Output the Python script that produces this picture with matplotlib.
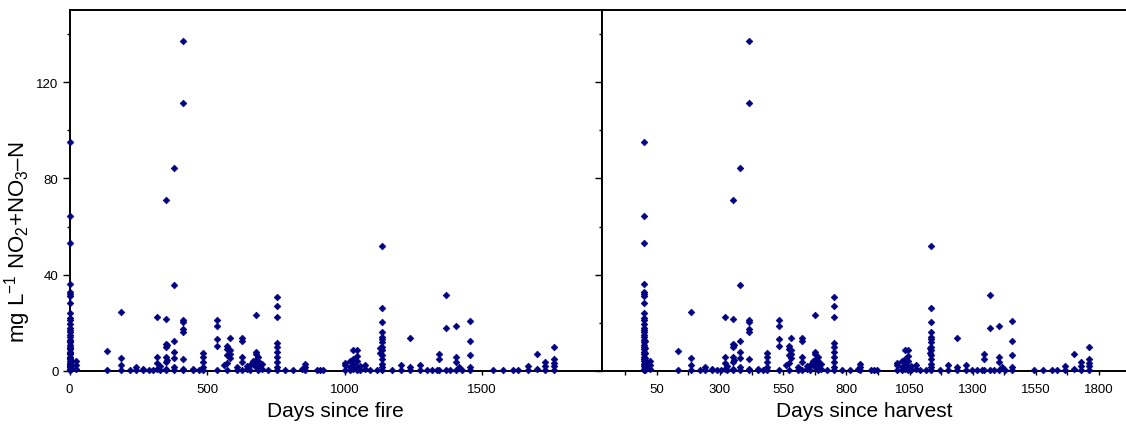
import matplotlib
matplotlib.use("Agg")
import matplotlib.pyplot as plt
from matplotlib.ticker import FixedLocator

plt.rcParams['font.family'] = ['Liberation Sans', 'DejaVu Sans']
plt.rcParams['mathtext.fontset'] = 'custom'
plt.rcParams['mathtext.rm'] = 'Liberation Sans'

# ---- data: (sampling day, NO2+NO3-N in mg/L) ----
days = [
    0, 0, 0, 0, 0, 0, 0, 0, 0, 0, 0, 0, 0, 0, 0, 0, 0, 0, 0, 0, 0, 0, 0, 0, 0, 0, 0, 0, 0, 0, 0,
    2, 2, 2, 2, 2, 2, 2, 2,
    4, 4, 4,
    22, 22, 22,
    135, 135,
    187, 187, 187, 187,
    220, 242, 242, 268, 268, 290, 305,
    319, 319, 319, 319,
    329, 329,
    351, 351, 351, 351, 351, 351, 351, 351,
    356, 356,
    381, 381, 381, 381, 381, 381, 381,
    414, 414, 414, 414, 414, 414, 414, 414, 414,
    450, 450, 470,
    487, 487, 487, 487, 487,
    535, 535, 535, 535, 535,
    560,
    572, 572, 572, 572, 572,
    583, 583, 583, 583,
    608, 608,
    626, 626, 626, 626, 626,
    645, 645, 656, 656, 668, 668,
    677, 677, 677, 677, 677, 677,
    687, 687, 687, 687,
    700, 700, 723,
    753, 753, 753, 753, 753, 753, 753, 753, 753, 753,
    784, 814, 845, 856, 856, 856, 899, 910, 923,
    1002, 1002, 1002,
    1020, 1020, 1020,
    1032, 1032, 1032, 1032,
    1045, 1045, 1045, 1045, 1045,
    1056, 1056, 1075, 1075, 1093, 1117,
    1130, 1130,
    1135, 1135, 1135, 1135, 1135, 1135, 1135, 1135, 1135, 1135, 1135, 1135, 1135, 1135,
    1172, 1204, 1204,
    1238, 1238, 1238,
    1275, 1275, 1299, 1317, 1335,
    1345, 1345, 1345,
    1369, 1369, 1369,
    1384,
    1404, 1404, 1404, 1404,
    1415, 1426,
    1456, 1456, 1456, 1456, 1456,
    1541, 1577, 1612, 1632,
    1666, 1666,
    1699, 1699,
    1729, 1729, 1729,
    1762, 1762, 1762, 1762, 1762,
]
no2no3_n = [
    95.3, 64.3, 53.2, 36.2, 33.0, 32.0, 31.0, 28.3, 24.0, 22.0, 21.0, 19.5, 18.0, 17.0, 16.0, 15.0,
    14.0, 13.0, 12.0, 11.0, 10.0, 9.0, 8.0, 7.0, 6.0, 5.0, 4.0, 3.0, 2.0, 1.0, 0.3,
    12.5, 9.5, 7.5, 5.5, 3.5, 2.5, 1.5, 0.5,
    4.0, 2.0, 0.8,
    4.2, 2.3, 0.8,
    8.5, 0.3,
    24.4, 5.3, 2.5, 0.3,
    0.3, 1.5, 0.3, 1.0, 0.3, 0.3, 0.5,
    22.3, 5.8, 3.5, 1.0,
    0.3, 2.0,
    71.2, 21.4, 11.2, 10.0, 5.8, 3.7, 1.0, 0.3,
    11.0, 4.5,
    84.2, 35.8, 12.6, 7.8, 5.5, 1.5, 0.3,
    137.0, 111.5, 21.0, 20.2, 17.5, 16.0, 5.0, 1.0, 0.3,
    0.3, 1.0, 0.5,
    7.5, 5.8, 3.7, 1.5, 0.3,
    21.2, 18.6, 13.3, 10.3, 0.3,
    2.5,
    10.3, 9.0, 6.5, 3.5, 0.3,
    13.6, 8.6, 7.2, 5.5,
    0.3, 1.5,
    13.6, 12.6, 5.8, 3.7, 0.3,
    1.0, 2.0, 2.5, 0.3, 3.0, 4.0,
    23.3, 7.9, 7.2, 4.5, 3.0, 1.5,
    5.8, 4.2, 2.0, 0.3,
    3.0, 1.0, 0.3,
    30.7, 27.2, 22.6, 11.7, 10.0, 8.0, 5.8, 3.7, 1.5, 0.3,
    0.3, 0.3, 1.0, 2.8, 1.5, 0.3, 0.3, 0.3, 0.3,
    3.5, 2.5, 0.3,
    4.2, 1.5, 0.3,
    8.9, 5.0, 3.0, 1.0,
    8.6, 6.4, 4.0, 1.5, 0.3,
    0.5, 2.0, 2.6, 1.0, 0.3, 0.5,
    9.5, 7.5,
    52.0, 26.2, 20.3, 16.0, 14.0, 13.3, 12.0, 10.0, 8.7, 6.8, 5.0, 3.0, 1.5, 0.3,
    0.3, 2.3, 0.3,
    13.6, 1.5, 0.3,
    2.5, 0.3, 0.3, 0.3, 0.5,
    7.1, 5.0, 0.3,
    31.4, 17.9, 0.3,
    0.5,
    18.6, 5.8, 3.7, 0.3,
    1.5, 0.3,
    20.7, 12.6, 6.7, 1.5, 0.3,
    0.3, 0.3, 0.3, 0.3,
    2.0, 0.3,
    7.1, 0.8,
    3.7, 2.0, 0.5,
    10.1, 5.0, 3.5, 2.0, 0.5,
]

fire_ticks = [0, 500, 1000, 1500]
harvest_ticks = [50, 300, 550, 800, 1050, 1300, 1550, 1800]
harvest_minor = [-75, 175, 425, 675, 925, 1175, 1425, 1675]
y_major = [0, 40, 80, 120]
y_minor = [20, 60, 100, 140]

W, H = 1126, 431
fig = plt.figure(figsize=(W / 100, H / 100), dpi=100)

bottom = (H - 372) / H
height = (372 - 11) / H
axL = fig.add_axes([69.5 / W, bottom, (601.7 - 69.5) / W, height])
axR = fig.add_axes([601.7 / W, bottom, (W - 601.7) / W, height])

navy = '#000080'
for ax in (axL, axR):
    ax.plot(days, no2no3_n, linestyle='none', marker='D', markersize=3.4,
            color=navy, markeredgecolor=navy, markeredgewidth=0.5, clip_on=False, zorder=3)
    ax.set_ylim(0, 150)
    ax.yaxis.set_major_locator(FixedLocator(y_major))
    ax.yaxis.set_minor_locator(FixedLocator(y_minor))
    ax.tick_params(axis='y', which='major', length=5, width=1, direction='out', labelsize=9.5, pad=3)
    ax.tick_params(axis='y', which='minor', length=2.5, width=1, direction='out')
    ax.tick_params(axis='x', which='both', length=3, width=1, direction='out', labelsize=9.5, pad=6)
    for s in ax.spines.values():
        s.set_linewidth(1.4)

axL.set_xlim(0, 1935)
axL.xaxis.set_major_locator(FixedLocator(fire_ticks))
axL.set_xlabel('Days since fire', fontsize=15, labelpad=4)
axL.set_ylabel(r'mg L$^{\mathregular{-1}}$ NO$_{\mathregular{2}}$+NO$_{\mathregular{3}}$–N',
               fontsize=16)
axL.yaxis.set_label_coords(-0.069, 0.36)

axR.set_xlim(-168, 1906.6)
axR.xaxis.set_major_locator(FixedLocator(harvest_ticks))
axR.xaxis.set_minor_locator(FixedLocator(harvest_minor))
axR.tick_params(axis='y', labelleft=False)
axR.spines['right'].set_visible(False)
axR.set_xlabel('Days since harvest', fontsize=15, labelpad=4)

fig.savefig('out.png', dpi=100)
